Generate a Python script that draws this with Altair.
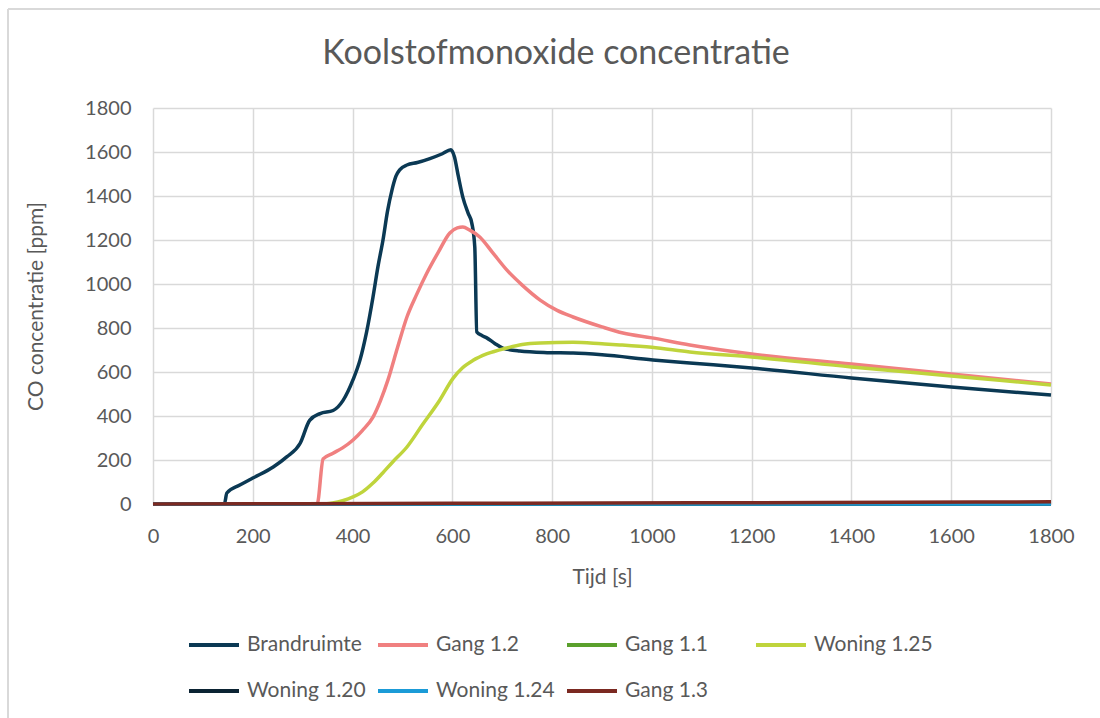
import altair as alt
import pandas as pd

# CO concentration [ppm] per measuring point, time in seconds
brand_t = [0, 143, 148, 174, 200, 241, 268, 295, 314, 335, 361, 381, 401, 415, 428, 441,
           451, 461, 470, 479, 487, 495, 509, 530, 555, 580, 597, 604, 612, 621, 632, 639,
           645, 649, 660, 669, 685, 701, 735, 790, 842, 900, 1002, 1076, 1200, 1400, 1600, 1800]
brand_v = [0, 0, 50, 86, 118, 168, 214, 276, 380, 411, 425, 471, 565, 655, 780, 941,
           1080, 1200, 1330, 1427, 1490, 1520, 1541, 1552, 1570, 1592, 1610, 1580, 1490, 1395, 1320, 1277,
           1168, 782, 765, 755, 730, 709, 695, 688, 686, 678, 655, 641, 618, 573, 532, 495]

gang12_t = [0, 329, 341, 360, 380, 401, 420, 441, 456, 471, 490, 509, 529, 549, 572, 595,
            610, 621, 635, 655, 680, 709, 740, 776, 810, 842, 900, 942, 1000, 1076, 1200,
            1400, 1600, 1800]
gang12_v = [0, 0, 205, 230, 255, 291, 335, 395, 470, 564, 710, 850, 955, 1050, 1145, 1232,
            1255, 1259, 1245, 1214, 1145, 1064, 995, 927, 880, 850, 805, 777, 755, 723, 682,
            636, 591, 545]

woning125_t = [0, 340, 360, 380, 401, 420, 441, 460, 480, 509, 540, 575, 601, 620, 641, 670,
               709, 740, 776, 842, 900, 936, 1000, 1076, 1200, 1400, 1600, 1800]
woning125_v = [0, 0, 5, 15, 32, 55, 95, 140, 190, 259, 360, 473, 570, 618, 652, 683,
               709, 725, 732, 735, 728, 723, 712, 691, 668, 623, 582, 541]

gang11_t = [0, 600, 1200, 1800]
gang11_v = [0, 0, 0, 0]

woning120_t = [0, 600, 1200, 1800]
woning120_v = [0, 0, 0, 0]

woning124_t = [0, 600, 1200, 1800]
woning124_v = [0, 0, 0, 0]

gang13_t = [0, 300, 600, 900, 1200, 1500, 1800]
gang13_v = [0, 1, 3, 4, 6, 8, 10]

series_names = ["Brandruimte", "Gang 1.2", "Gang 1.1", "Woning 1.25",
                "Woning 1.20", "Woning 1.24", "Gang 1.3"]
series_colors = ["#0b3954", "#f08080", "#5aa02c", "#bfd43c",
                 "#0b2333", "#1b9bd7", "#7b2921"]

series_data = {
    "Brandruimte": (brand_t, brand_v),
    "Gang 1.2": (gang12_t, gang12_v),
    "Gang 1.1": (gang11_t, gang11_v),
    "Woning 1.25": (woning125_t, woning125_v),
    "Woning 1.20": (woning120_t, woning120_v),
    "Woning 1.24": (woning124_t, woning124_v),
    "Gang 1.3": (gang13_t, gang13_v),
}

rows = []
for order, name in enumerate(series_names):
    ts, vs = series_data[name]
    for t, v in zip(ts, vs):
        rows.append({"serie": name, "tijd": t, "co": v, "volgorde": order})
df = pd.DataFrame(rows)

FONT = "Lato"
GREY = "#595959"

lines = alt.Chart(df).mark_line(strokeWidth=3.5, interpolate="monotone").encode(
    x=alt.X("tijd:Q", title="Tijd [s]",
            scale=alt.Scale(domain=[0, 1800], nice=False),
            axis=alt.Axis(values=list(range(0, 1801, 200)), format="d", grid=True,
                          ticks=False, domain=False, labelFlush=False,
                          labelPadding=22, titlePadding=20)),
    y=alt.Y("co:Q", title="CO concentratie [ppm]",
            scale=alt.Scale(domain=[0, 1800], nice=False),
            axis=alt.Axis(values=list(range(0, 1801, 200)), format="d", grid=True,
                          ticks=False, domain=False, labelFlush=False,
                          labelPadding=22, titlePadding=38)),
    color=alt.Color("serie:N", scale=alt.Scale(domain=series_names, range=series_colors),
                    legend=alt.Legend(title=None, orient="none", legendX=34, legendY=510,
                                      direction="horizontal", columns=4, gridAlign="all",
                                      symbolType="stroke", symbolSize=2500,
                                      symbolStrokeWidth=4, columnPadding=4,
                                      rowPadding=9, labelOffset=6)),
    order=alt.Order("volgorde:Q"),
    detail="serie:N",
)

# outer chart frame (left and top edge)
frame_left = alt.Chart(df).mark_rule(color="#d9d9d9", strokeWidth=1.5).encode(
    x=alt.value(-145), y=alt.value(-99), y2=alt.value(620))
frame_top = alt.Chart(df).mark_rule(color="#d9d9d9", strokeWidth=1.5).encode(
    x=alt.value(-145), x2=alt.value(960), y=alt.value(-99))

chart = alt.layer(lines, frame_left, frame_top).properties(
    width=898,
    height=396,
    autosize=alt.AutoSizeParams(type="none"),
    padding={"left": 153, "top": 108, "right": 49, "bottom": 214},
    title=alt.TitleParams("Koolstofmonoxide concentratie", anchor="middle", dx=-46,
                          offset=0, dy=90, baseline="alphabetic", font=FONT, fontSize=34,
                          fontWeight="normal", color=GREY),
).configure_view(stroke=None).configure_axis(
    labelFont=FONT, labelFontSize=20, labelColor=GREY,
    titleFont=FONT, titleFontSize=21, titleColor=GREY, titleFontWeight="normal",
    gridColor="#d9d9d9", gridWidth=1.5,
).configure_legend(
    labelFont=FONT, labelFontSize=21, labelColor=GREY, padding=0,
)

chart.save("out.html", embed_options={"renderer": "svg", "actions": False})
